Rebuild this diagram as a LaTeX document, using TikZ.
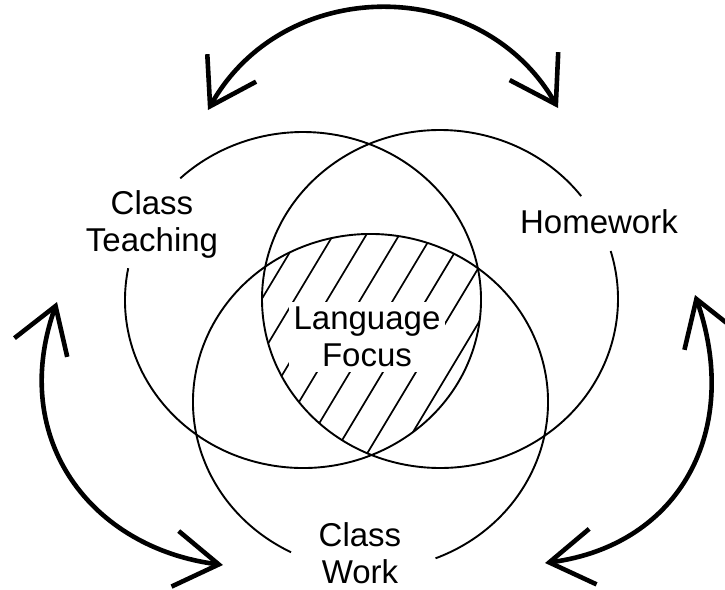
\documentclass[tikz,border=0pt]{standalone}
\usepackage{fontspec}
\setmainfont{Liberation Sans}
\usetikzlibrary{arrows.meta}
\begin{document}
\begin{tikzpicture}[x=1pt,y=-1pt,
  ring/.style={line width=1.9pt},
  hatch/.style={line width=1.7pt},
  cycle arrow/.style={line width=4.6pt, {Straight Barb[length=44pt,width=56pt]}-{Straight Barb[length=44pt,width=56pt]}},
  lbl/.style={font=\fontsize{33}{37}\selectfont, align=center, inner sep=0pt}]
\fill[white, use as bounding box] (0,0) rectangle (725,589);

% hatching of the triple overlap
\begin{scope}
  \clip (303,300) ellipse [x radius=178, y radius=168];
  \clip (440,299) ellipse [x radius=178, y radius=169];
  \clip (370.5,402) ellipse [x radius=177.5, y radius=168];
  \foreach \k in {-4,...,11}
    \draw[hatch] ({332+33*\k+10.2},220) -- ({332+33*\k-139.8},470);
\end{scope}

% labels
\node[lbl, fill=white, inner sep=5pt] (lf) at (367,337) {Language\\Focus};
\node[lbl] (ct) at (152,224) {Class\\Teaching};
\node[lbl] (hw) at (599,222) {Homework};
\node[lbl] (cw) at (360,553) {Class\\Work};

% the three circles (with gaps at the labels)
\draw[ring] ([shift={(-169.1:178 and 168)}]303,300)
  arc[start angle=-169.1, end angle=-493.6, x radius=178, y radius=168];
\draw[ring] ([shift={(-37.5:178 and 169)}]440,299)
  arc[start angle=-37.5, end angle=-376.5, x radius=178, y radius=169];
\draw[ring] ([shift={(-291.5:177.5 and 168)}]370.5,402)
  arc[start angle=-291.5, end angle=-603.4, x radius=177.5, y radius=168];

% arrow end points
\coordinate (tl) at (208,110);
\coordinate (tr) at (558,108);
\coordinate (lt) at (57,302);
\coordinate (lb) at (223,565);
\coordinate (rt) at (695,295);
\coordinate (rb) at (545,563);

\draw[cycle arrow] (tl) .. controls (284,-25) and (481,-26) .. (tr);
\draw[cycle arrow] (lt) .. controls (8,440) and (92,548) .. (lb);
\draw[cycle arrow] (rt) .. controls (742,430) and (680,545) .. (rb);
\end{tikzpicture}
\end{document}
